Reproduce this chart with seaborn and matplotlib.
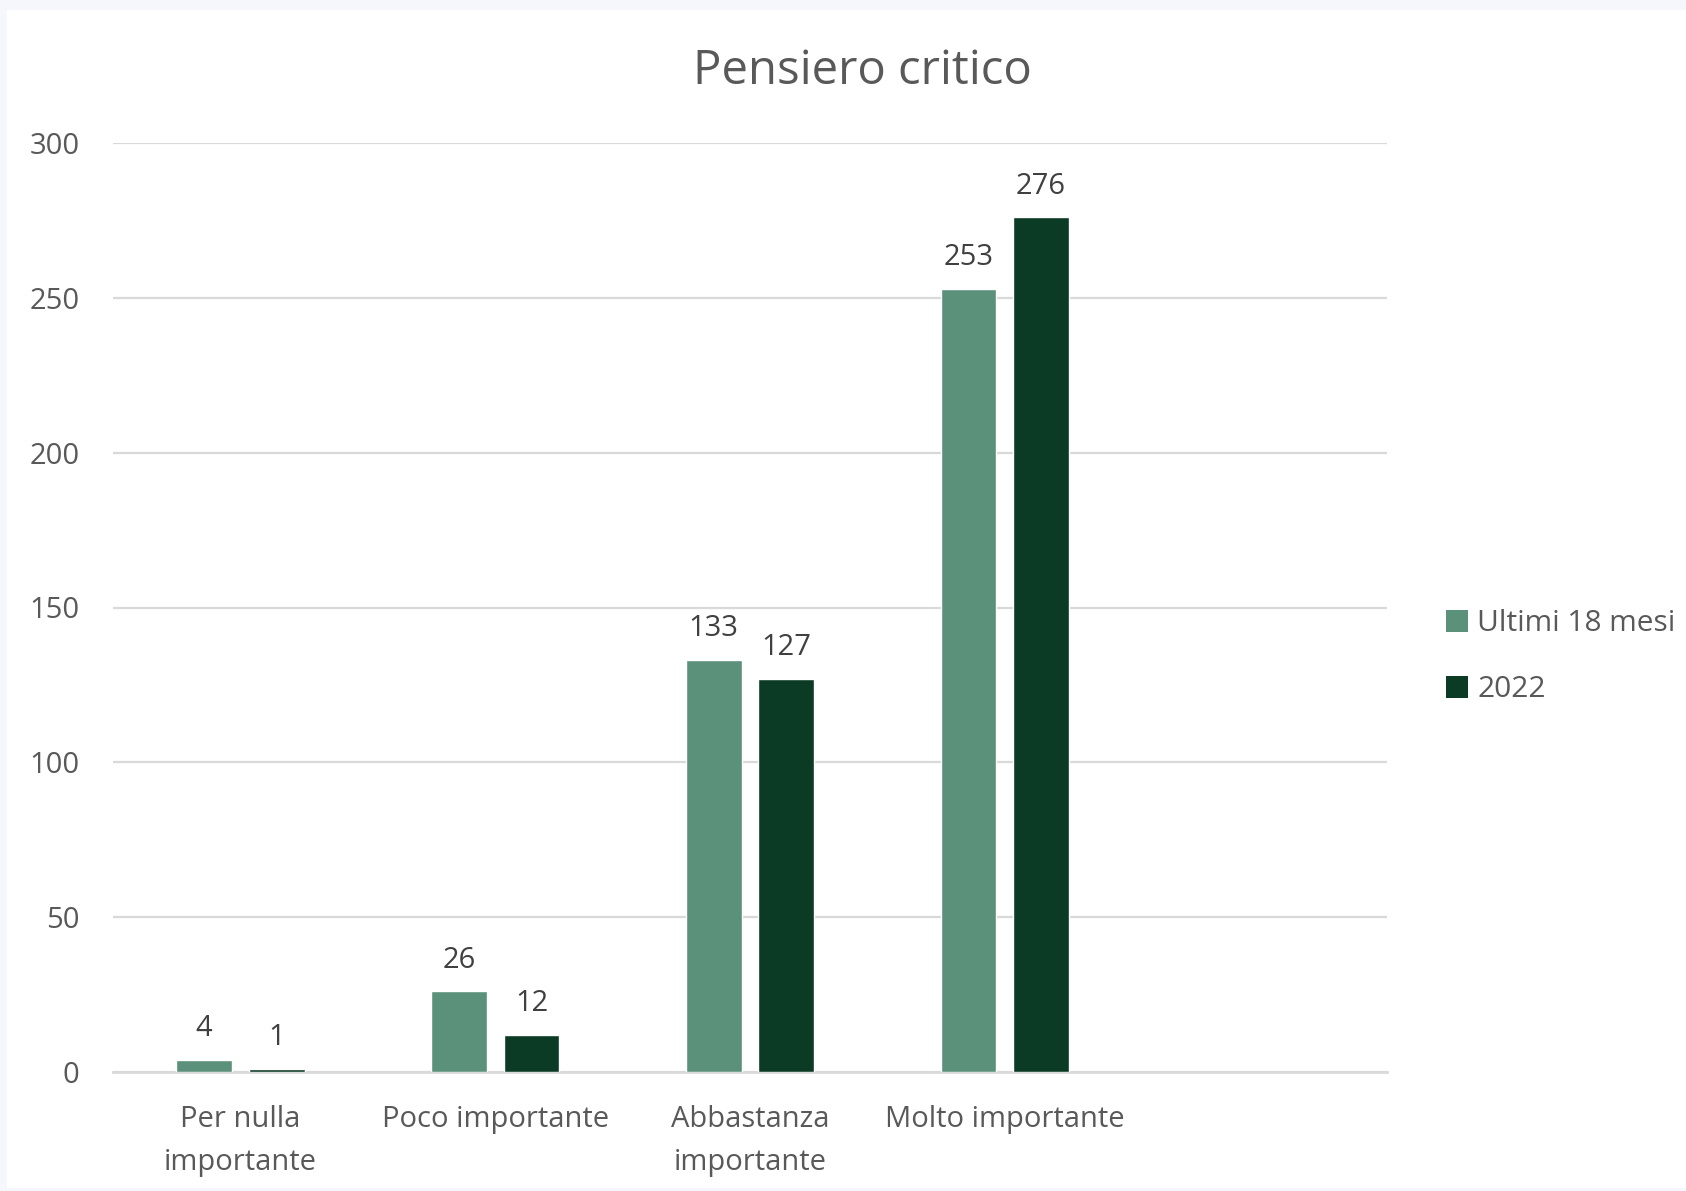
import matplotlib
matplotlib.use("Agg")
import matplotlib.pyplot as plt
import matplotlib.patches as mpatches
import seaborn as sns
import pandas as pd

categories = ["Per nulla\nimportante", "Poco importante", "Abbastanza\nimportante", "Molto importante"]
series_names = ["Ultimi 18 mesi", "2022"]
values_18m = [4, 26, 133, 253]
values_2022 = [1, 12, 127, 276]
y_ticks = [0, 50, 100, 150, 200, 250, 300]

colors = ["#5b917a", "#0b3a25"]
text_color = "#595959"
grid_color = "#d9d9d9"

sns.set_theme(style="white")
plt.rcParams["font.family"] = ["Open Sans", "DejaVu Sans"]

df = pd.DataFrame({
    "categoria": categories * 2,
    "serie": [series_names[0]] * 4 + [series_names[1]] * 4,
    "valore": values_18m + values_2022,
})

fig = plt.figure(figsize=(16.86, 11.91), dpi=100)
fig.patch.set_facecolor("#f5f7fc")
panel = mpatches.Rectangle((7 / 1686, 3 / 1191), 1 - 7 / 1686, 1 - 13 / 1191,
                           transform=fig.transFigure, facecolor="white",
                           edgecolor="none", zorder=-10)
fig.add_artist(panel)

ax = fig.add_axes([113 / 1686, 119 / 1191, 1274 / 1686, 929 / 1191])
ax.set_facecolor("none")

sns.barplot(data=df, x="categoria", y="valore", hue="serie", order=categories,
            hue_order=series_names, palette=colors, width=0.57, gap=0.23,
            saturation=1, legend=False, ax=ax, zorder=3)

# an empty fifth slot on the category axis
ax.set_xlim(-0.5, 4.5)
ax.set_ylim(0, 300)
ax.set_yticks(y_ticks)
ax.yaxis.grid(True, color=grid_color, linewidth=1.6, zorder=0)
ax.set_axisbelow(True)
for side in ["top", "right", "left"]:
    ax.spines[side].set_visible(False)
ax.spines["bottom"].set_color(grid_color)
ax.spines["bottom"].set_linewidth(2)
ax.spines["bottom"].set_zorder(1)
ax.tick_params(axis="both", length=0, labelsize=21, colors=text_color)
ax.tick_params(axis="x", pad=24)
ax.tick_params(axis="y", pad=24)
ax.set_xlabel("")
ax.set_ylabel("")
for lbl in ax.get_xticklabels():
    lbl.set_linespacing(1.6)

for cont in ax.containers:
    ax.bar_label(cont, labels=[f"{v:g}" for v in cont.datavalues], padding=12,
                 fontsize=21, color="#404040")

handles = [mpatches.Patch(facecolor=c, edgecolor="none") for c in colors]
fig.legend(handles, series_names, loc="center left", bbox_to_anchor=(1446 / 1686, 0.4486),
           frameon=False, fontsize=21.5, labelcolor=text_color, handlelength=0.75,
           handleheight=0.75, handletextpad=0.3, labelspacing=1.25, borderpad=0,
           borderaxespad=0)

fig.text(862 / 1686, 0.940, "Pensiero critico", ha="center", va="center",
         fontsize=34, color=text_color)

fig.savefig("out.png", dpi=100, facecolor=fig.get_facecolor())
